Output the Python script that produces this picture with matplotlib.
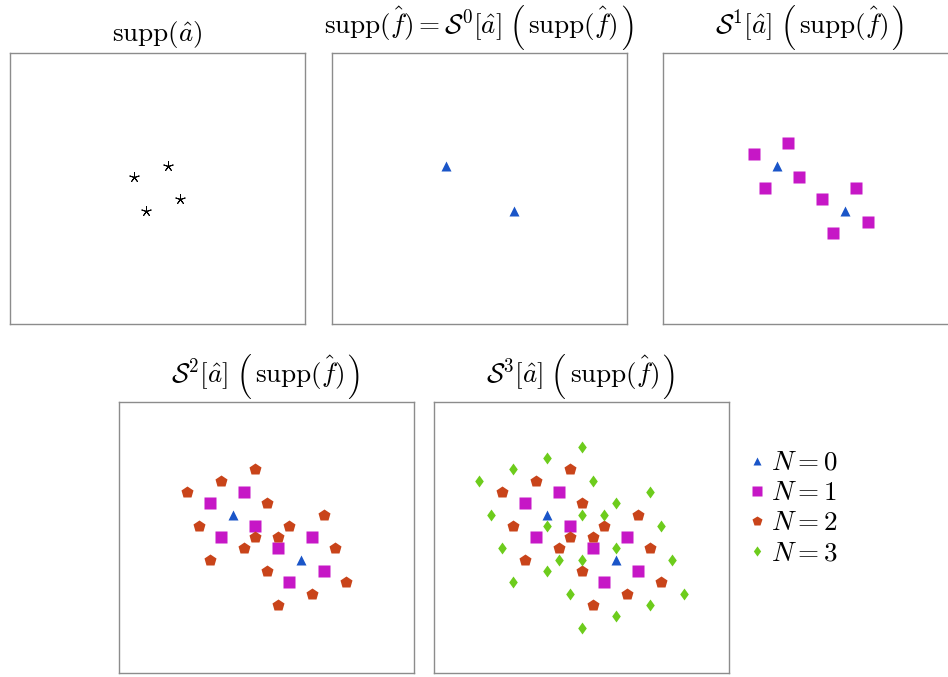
import os
import matplotlib
matplotlib.use("Agg")
import matplotlib.pyplot as plt
from matplotlib.path import Path
from matplotlib.font_manager import FontProperties
from matplotlib.ft2font import FT2Font

plt.rcParams['mathtext.fontset'] = 'cm'
plt.rcParams['font.family'] = ['DejaVu Serif']

# support of a-hat (lattice units)
a_x = [1, -2, 2, -1]
a_y = [2, 1, -1, -2]

# N = 0 : supp(f-hat)
n0_x = [-3, 3]
n0_y = [2, -2]

# N = 1
n1_x = [-2, -5, -1, -4, 4, 1, 5, 2]
n1_y = [4, 3, 1, 0, 0, -1, -3, -4]

# N = 2
n2_x = [-1, -4, -7, 0, 5, -6, 2, -1, 1, 6, -2, -5, 0, 7, 4, 1]
n2_y = [6, 5, 4, 3, 2, 1, 1, 0, 0, -1, -1, -2, -3, -4, -5, -6]

# N = 3
n3_x = [0, -3, -6, -9, 1, 6, 3, -8, 0, 2, -3, 7,
        -7, 3, -2, 0, 8, -3, -6, -1, 9, 6, 3, 0]
n3_y = [8, 7, 6, 5, 5, 4, 3, 2, 2, 2, 1, 1,
        -1, -1, -2, -2, -2, -3, -4, -5, -5, -6, -7, -8]

SUPPF = r'$\mathrm{supp}(\hat{f})$'
title_pieces = [
    [('t', r'$\mathrm{supp}(\hat{a})$')],
    [('t', r'$\mathrm{supp}(\hat{f}) = \mathcal{S}^0[\hat{a}]$'), ('g', 8), ('L', ''),
     ('g', 4), ('t', SUPPF), ('g', 3), ('R', '')],
    [('t', r'$\mathcal{S}^1[\hat{a}]$'), ('g', 8), ('L', ''),
     ('g', 4), ('t', SUPPF), ('g', 3), ('R', '')],
    [('t', r'$\mathcal{S}^2[\hat{a}]$'), ('g', 8), ('L', ''),
     ('g', 4), ('t', SUPPF), ('g', 3), ('R', '')],
    [('t', r'$\mathcal{S}^3[\hat{a}]$'), ('g', 8), ('L', ''),
     ('g', 4), ('t', SUPPF), ('g', 3), ('R', '')],
]

c0 = '#1a55c8'
c1 = '#c617c6'
c2 = '#c9441a'
c3 = '#6dcc1c'

diamond = Path([(0, 1), (0.72, 0), (0, -1), (-0.72, 0), (0, 1)],
               [Path.MOVETO, Path.LINETO, Path.LINETO, Path.LINETO, Path.CLOSEPOLY])

styles = [
    dict(marker='^', color=c0, ms=7.6),
    dict(marker='s', color=c1, ms=8.4),
    dict(marker='p', color=c2, ms=8.6),
    dict(marker=diamond, color=c3, ms=8.6),
]
levels = [(n0_x, n0_y), (n1_x, n1_y), (n2_x, n2_y), (n3_x, n3_y)]
labels = [r'$N=0$', r'$N=1$', r'$N=2$', r'$N=3$']

W, H = 948, 677
FS = 19.5
fig = plt.figure(figsize=(W / 100, H / 100), dpi=100)

boxes = [(9.5, 52.7), (332.3, 52.7), (663.3, 52.7), (119.3, 401.7), (434, 401.7)]
aw, ah = 295, 271

axes = []
for (x0, y0) in boxes:
    ax = fig.add_axes([x0 / W, 1 - (y0 + ah) / H, aw / W, ah / H])
    ax.set_xlim(-13, 13)
    ax.set_ylim(-12, 12)
    ax.set_xticks([])
    ax.set_yticks([])
    for s in ax.spines.values():
        s.set_color('#8c8c8c')
        s.set_linewidth(1.0)
    axes.append(ax)

# panel 1: supp(a-hat)
axes[0].plot(a_x, a_y, linestyle='none', marker=(5, 2, 0), color='black',
             ms=7.4, mew=0.7)

# panels 2-5: cumulative levels
handles = []
for p in range(1, 5):
    ax = axes[p]
    for lev in range(p):
        xs, ys = levels[lev]
        st = styles[lev]
        h, = ax.plot(xs, ys, linestyle='none', marker=st['marker'],
                     color=st['color'], ms=st['ms'], mec='none',
                     label=labels[lev])
        if p == 4:
            handles.append(h)

fig.legend(handles=handles, labels=labels, loc='upper left',
           bbox_to_anchor=(751 / W, 1 - 449 / H), frameon=False,
           fontsize=FS, handlelength=0.45, handletextpad=0.3,
           labelspacing=0.12, borderaxespad=0, borderpad=0,
           markerscale=0.85)

# ---- titles with \Big-sized parentheses (Computer Modern extension font) ----
fig.canvas.draw()
renderer = fig.canvas.get_renderer()

CMEX = os.path.join(matplotlib.get_data_path(), 'fonts', 'ttf', 'cmex10.ttf')
PFS = 18.0
fp_ex = FontProperties(fname=CMEX, size=PFS)
BIG_L, BIG_R = '\xb3', '\xb4'   # \Big( and \Big) glyphs


def glyph_mid(ch):
    f = FT2Font(CMEX)
    f.set_size(PFS, 100)
    g = f.load_char(ord(ch))
    top = g.horiBearingY / 64.0
    bot = (g.horiBearingY - g.height) / 64.0
    return (top + bot) / 2.0


MID_L = glyph_mid(BIG_L)
MID_R = glyph_mid(BIG_R)
AXIS = 0.25 * FS * 100 / 72.0


def measure(s, fp=None):
    if fp is None:
        t = fig.text(0, 0.5, s, fontsize=FS)
    else:
        t = fig.text(0, 0.5, s, fontproperties=fp)
    w = t.get_window_extent(renderer).width
    t.remove()
    return w


def build_title(ax, pieces):
    pos = ax.get_position()
    cx = (pos.x0 + pos.x1) / 2 * W
    top = pos.y1 * H
    made = []
    x = 0.0
    for kind, s in pieces:
        if kind == 'g':
            x += s
        elif kind == 't':
            w = measure(s)
            made.append((kind, s, x))
            x += w
        else:
            ch = BIG_L if kind == 'L' else BIG_R
            w = measure(ch, fp_ex)
            made.append((kind, ch, x))
            x += w
    x0 = cx - x / 2
    yb = top + 20
    texts = []
    for kind, s, off in made:
        if kind == 't':
            t = fig.text((x0 + off) / W, yb / H, s, fontsize=FS,
                         va='baseline', ha='left', color='black')
            dy = 0.0
        else:
            mid = MID_L if kind == 'L' else MID_R
            dy = AXIS - mid
            t = fig.text((x0 + off) / W, (yb + dy) / H, s, fontproperties=fp_ex,
                         va='baseline', ha='left', color='black')
        texts.append((t, dy))
    ymin = min(t.get_window_extent(renderer).y0 for t, _ in texts)
    shift = (top + 3) - ymin
    for t, dy in texts:
        t.set_y((yb + shift + dy) / H)


for ax, pcs in zip(axes, title_pieces):
    build_title(ax, pcs)

fig.savefig('out.png', dpi=100)
